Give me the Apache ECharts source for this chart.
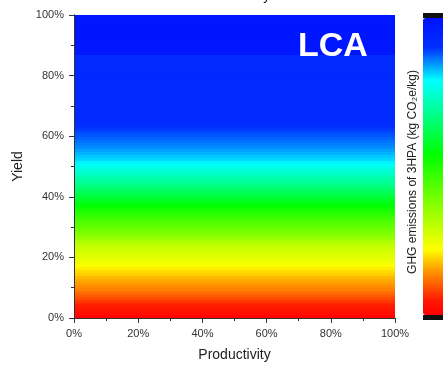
<!DOCTYPE html>
<html><head><meta charset="utf-8">
<script src="https://cdn.jsdelivr.net/npm/echarts@6/dist/echarts.min.js"></script>
<style>html,body{margin:0;padding:0;background:#fff}#c{width:443px;height:367px}</style>
</head><body><div id="c"></div>
<script>
// x ticks / y ticks (percent)
var xTicks = [0, 20, 40, 60, 80, 100];
var yTicks = [0, 20, 40, 60, 80, 100];
// productivity range covered (the colour does not change along productivity)
var productivityRange = [0, 100];
// yield rows: start of each 1% row, 0..99
var yieldRows = [];
for (var i = 0; i < 100; i++) yieldRows.push(i);
// GHG emission level (position on colour scale, 0 = red, 100 = blue) read for each yield row
var ghgLevel = [
  1, 2.5, 3.5, 4.5, 5.5, 7, 8.5, 10, 11.5, 13,
  14, 15, 16, 17, 18.5, 19.5, 21, 22.5, 24, 25,
  26, 27, 28, 29, 30.5, 32.5, 35, 37, 39, 40.5,
  42, 43.5, 45, 47, 49, 50.5, 52.5, 54.5, 56.5, 58.5,
  60.5, 62.5, 64, 66, 68, 69.5, 71, 73, 74.5, 76,
  78, 79.5, 81, 82, 83, 84, 85, 85.8, 86.6, 87.4,
  88, 88.8, 89.6, 90.4, 91.2, 92, 92, 92, 92, 92,
  92, 92, 92, 92, 92, 92, 92, 92, 92, 92,
  92, 92, 92, 92, 92, 92, 92, 98, 98, 98,
  98, 98, 98, 98, 98, 98, 98, 98, 98, 98
];

// colour scale stops (style)
var stops = [[0, [255,0,0]], [5, [255,26,0]], [15, [255,153,0]], [22, [255,255,0]], [54, [0,255,0]], [79, [0,255,255]], [90, [0,48,255]], [100, [0,16,255]]];
function colAt(v){
  for (var k = 0; k < stops.length - 1; k++) {
    var a = stops[k], b = stops[k+1];
    if (v >= a[0] && v <= b[0]) {
      var f = (v - a[0]) / (b[0] - a[0]);
      var c = [0,1,2].map(function(j){return Math.round(a[1][j] + (b[1][j]-a[1][j])*f);});
      return 'rgb(' + c.join(',') + ')';
    }
  }
  return 'rgb(0,16,255)';
}
var palette = [];
for (var p = 0; p <= 100; p++) palette.push(colAt(p));

var data = [];
for (var r = 0; r < yieldRows.length; r++)
  data.push([productivityRange[0], yieldRows[r], ghgLevel[r]]);

var chart = echarts.init(document.getElementById('c'), null, {renderer: 'canvas'});
var font = 'Liberation Sans, Arial, sans-serif';
var axisCol = '#333';
chart.setOption({
  animation: false,
  grid: {left: 74, right: 48, top: 15, bottom: 46},
  xAxis: [
    {type: 'value', min: 0, max: 100, interval: 20, z: 10,
     name: 'Productivity', nameLocation: 'middle', nameGap: 30,
     nameTextStyle: {fontFamily: font, fontSize: 14, color: '#222'},
     axisLine: {lineStyle: {color: axisCol, width: 1}},
     axisTick: {show: true, length: 5, lineStyle: {color: axisCol}},
     minorTick: {show: true, splitNumber: 2, length: 3, lineStyle: {color: axisCol}},
     splitLine: {show: false},
     axisLabel: {margin: 10, fontFamily: font, fontSize: 11, color: '#333', formatter: '{value}%'}},
    {type: 'value', min: 0, max: 100, position: 'top', z: 10,
     axisLine: {show: true, lineStyle: {color: axisCol, width: 1}},
     axisTick: {show: false}, axisLabel: {show: false}, splitLine: {show: false}}
  ],
  yAxis: [
    {type: 'value', min: 0, max: 100, interval: 20, z: 10,
     name: 'Yield', nameLocation: 'middle', nameGap: 46,
     nameTextStyle: {fontFamily: font, fontSize: 14, color: '#222'},
     axisLine: {show: true, lineStyle: {color: axisCol, width: 1}},
     axisTick: {show: true, length: 5, lineStyle: {color: axisCol}},
     minorTick: {show: true, splitNumber: 2, length: 3, lineStyle: {color: axisCol}},
     splitLine: {show: false},
     axisLabel: {margin: 10, fontFamily: font, fontSize: 11, color: '#333', formatter: '{value}%'}},
    {type: 'value', min: 0, max: 100, position: 'right', z: 10,
     axisLine: {show: true, lineStyle: {color: axisCol, width: 1}},
     axisTick: {show: false}, axisLabel: {show: false}, splitLine: {show: false}}
  ],
  visualMap: {
    type: 'continuous', min: 0, max: 100, dimension: 2, seriesIndex: 0,
    calculable: false, show: true, left: 423, top: 18, itemWidth: 26, itemHeight: 297,
    padding: 0, text: null, inRange: {color: palette}, hoverLink: false,
    textStyle: {color: 'transparent'}
  },
  series: [{
    type: 'custom', xAxisIndex: 0, yAxisIndex: 0, data: data, clip: true,
    encode: {x: 0, y: 1},
    renderItem: function (params, api) {
      var y0 = api.value(1);
      var pLow = api.coord([productivityRange[0], y0]);
      var pHigh = api.coord([productivityRange[1], y0 + 1]);
      return {
        type: 'rect',
        shape: {x: pLow[0], y: pHigh[1] - 0.6, width: pHigh[0] - pLow[0], height: pLow[1] - pHigh[1] + 1.2},
        style: {fill: api.visual('color')}
      };
    }
  }],
  graphic: [
    {type: 'text', style: {text: 'Productivity', x: 234, y: 3, textAlign: 'center', textVerticalAlign: 'bottom', font: '14px ' + font, fill: '#222'}},
    {type: 'text', x: 298, y: 47, z: 20, style: {text: 'LCA', textVerticalAlign: 'middle', font: 'bold 34px ' + font, fill: '#fff'}},
    {type: 'rect', shape: {x: 423, y: 13, width: 26, height: 5}, style: {fill: '#111'}, z: 20},
    {type: 'rect', shape: {x: 423, y: 315, width: 26, height: 5}, style: {fill: '#111'}, z: 20},
    {type: 'text', x: 413, y: 172, rotation: Math.PI / 2, z: 20,
     style: {text: 'GHG emissions of 3HPA (kg CO\u2082e/kg)', textAlign: 'center', textVerticalAlign: 'middle', font: '12px ' + font, fill: '#222'}}
  ]
});
</script>
</body></html>
